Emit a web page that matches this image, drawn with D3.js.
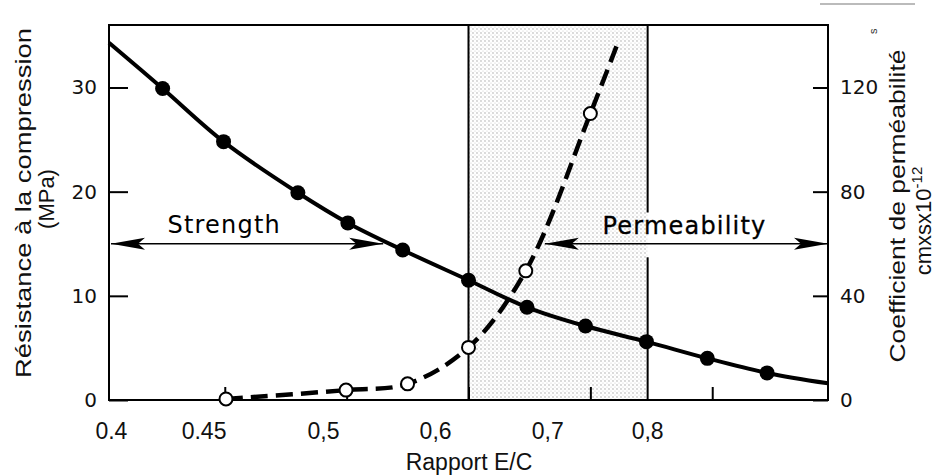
<!DOCTYPE html>
<html>
<head>
<meta charset="utf-8">
<script src="https://cdn.jsdelivr.net/npm/d3@7"></script>
<style>
  html, body { margin: 0; padding: 0; background: #fff; }
  svg { display: block; }
  .frame { stroke: #000; stroke-width: 2; fill: none; }
  .axis path { display: none; }
  .axis line { stroke: #000; stroke-width: 2; }
  .axis text { font-family: "DejaVu Sans", sans-serif; font-size: 20px; fill: #111; }
  .title { font-family: "Liberation Sans", Arial, sans-serif; fill: #111; }
  .hand { font-family: "DejaVu Sans", sans-serif; font-size: 24px; letter-spacing: 1.2px; fill: #000; }
</style>
</head>
<body>
<div id="chart"></div>
<script>
// rapport E/C (water/cement) of the strength points, and strength in MPa
const wcStrength = [0.349, 0.399, 0.46, 0.501, 0.546, 0.60, 0.648, 0.696, 0.746, 0.796, 0.845];
const strength   = [29.9, 24.8, 19.9, 17.0, 14.4, 11.5, 8.9, 7.1, 5.6, 4.0, 2.6];
// where the solid curve meets the frame
const strengthStart = [0.305, 34.3];
const strengthEnd   = [0.895, 1.6];

// permeability points (cm/s x 10^-12)
const wcPerm       = [0.401, 0.4995, 0.55, 0.60, 0.647, 0.70];
const permeability = [0.4, 3.8, 6.2, 20.2, 49.6, 110];
const permEnd      = [0.723, 137.7];

// x axis: tick marks and the (re-lettered) labels printed under it
const xTicks    = [0.4, 0.5, 0.6, 0.7, 0.8];
const xLabels   = ["0.4", "0.45", "0,5", "0,6", "0,7", "0,8"];
const xLabelsAt = [0.307, 0.383, 0.481, 0.573, 0.665, 0.747];

const leftTicks  = [0, 10, 20, 30];
const rightTicks = [0, 40, 80, 120];

// shaded band and the two range arrows (drawn at 15 MPa)
const zone = [0.60, 0.747];
const strengthArrow = [0.305, 0.53];
const permArrow     = [0.661, 0.895];
const arrowLevel    = 15;

const width = 936, height = 475;
const plotL = 109, plotR = 828, plotT = 25, plotB = 400;

const svg = d3.select("#chart").append("svg")
    .attr("width", width).attr("height", height);

const x  = d3.scaleLinear().domain([0.305, 0.895]).range([plotL, plotR]);
const yL = d3.scaleLinear().domain([0, 36]).range([plotB, plotT]);
const yR = d3.scaleLinear().domain([0, 144]).range([plotB, plotT]);

const defs = svg.append("defs");
const pat = defs.append("pattern")
    .attr("id", "dots").attr("patternUnits", "userSpaceOnUse")
    .attr("width", 4).attr("height", 4);
pat.append("circle").attr("cx", 1).attr("cy", 1).attr("r", 0.65).attr("fill", "#999");
pat.append("circle").attr("cx", 3).attr("cy", 3).attr("r", 0.5).attr("fill", "#bbb");

function arrowHead(id, dir) {
    // long narrow filled head, tip at 0
    defs.append("marker")
        .attr("id", id).attr("markerUnits", "userSpaceOnUse")
        .attr("viewBox", "-40 -8 44 16")
        .attr("markerWidth", 44).attr("markerHeight", 16)
        .attr("refX", 0).attr("refY", 0)
        .attr("orient", dir)
        .append("path")
        .attr("d", "M0,0 L-34,-6 L-27,0 L-34,6 Z")
        .attr("fill", "#000");
}
arrowHead("headEnd", "auto");
arrowHead("headStart", "auto-start-reverse");

// shaded band
svg.append("rect")
    .attr("x", x(zone[0])).attr("y", plotT)
    .attr("width", x(zone[1]) - x(zone[0])).attr("height", plotB - plotT)
    .attr("fill", "url(#dots)");

svg.append("line")
    .attr("x1", x(zone[0])).attr("x2", x(zone[0]))
    .attr("y1", plotT).attr("y2", plotB)
    .attr("stroke", "#000").attr("stroke-width", 2);
// right edge is broken where the permeability label sits
[[36, 18], [13.7, 0]].forEach(([a, b]) => {
    svg.append("line")
        .attr("x1", x(zone[1])).attr("x2", x(zone[1]))
        .attr("y1", yL(a)).attr("y2", yL(b))
        .attr("stroke", "#000").attr("stroke-width", 2);
});

// frame
svg.append("rect").attr("class", "frame")
    .attr("x", plotL).attr("y", plotT)
    .attr("width", plotR - plotL).attr("height", plotB - plotT);

// axes, ticks pointing inward
svg.append("g").attr("class", "axis")
    .attr("transform", `translate(${plotL},0)`)
    .call(d3.axisLeft(yL).tickValues(leftTicks).tickSize(-19).tickPadding(12).tickFormat(d3.format("d")));
svg.append("g").attr("class", "axis")
    .attr("transform", `translate(${plotR},0)`)
    .call(d3.axisRight(yR).tickValues(rightTicks).tickSize(-15).tickPadding(12).tickFormat(d3.format("d")));
svg.append("g").attr("class", "axis")
    .attr("transform", `translate(0,${plotB})`)
    .call(d3.axisBottom(x).tickValues(xTicks).tickSize(-13).tickFormat(""));

svg.append("g").selectAll("text")
    .data(xLabels)
    .join("text")
    .attr("class", "title")
    .attr("x", (d, i) => x(xLabelsAt[i]))
    .attr("y", 439)
    .attr("text-anchor", "middle")
    .attr("font-size", 23)
    .text(d => d);

// strength curve
const strengthPts = [strengthStart]
    .concat(wcStrength.map((w, i) => [w, strength[i]]))
    .concat([strengthEnd]);
svg.append("path")
    .attr("d", d3.line().x(d => x(d[0])).y(d => yL(d[1])).curve(d3.curveCatmullRom)(strengthPts))
    .attr("fill", "none").attr("stroke", "#000").attr("stroke-width", 4);

// permeability curve
const permPts = wcPerm.map((w, i) => [w, permeability[i]]).concat([permEnd]);
svg.append("path")
    .attr("d", d3.line().x(d => x(d[0])).y(d => yR(d[1])).curve(d3.curveCatmullRom)(permPts))
    .attr("fill", "none").attr("stroke", "#000").attr("stroke-width", 4.5)
    .attr("stroke-dasharray", "17,8");

svg.append("g").selectAll("circle")
    .data(wcStrength)
    .join("circle")
    .attr("cx", d => x(d))
    .attr("cy", (d, i) => yL(strength[i]))
    .attr("r", 7.5).attr("fill", "#000");

svg.append("g").selectAll("circle")
    .data(wcPerm)
    .join("circle")
    .attr("cx", d => x(d))
    .attr("cy", (d, i) => yR(permeability[i]))
    .attr("r", 6.5).attr("fill", "#fff")
    .attr("stroke", "#000").attr("stroke-width", 2);

// range arrows and their labels
[strengthArrow, permArrow].forEach(a => {
    svg.append("line")
        .attr("x1", x(a[0]) + 2).attr("x2", x(a[1]))
        .attr("y1", yL(arrowLevel)).attr("y2", yL(arrowLevel))
        .attr("stroke", "#000").attr("stroke-width", 1.6)
        .attr("marker-start", "url(#headStart)")
        .attr("marker-end", "url(#headEnd)");
});

svg.append("text").attr("class", "hand")
    .attr("x", x(0.353)).attr("y", yL(arrowLevel) - 11)
    .text("Strength");
svg.append("text").attr("class", "hand")
    .attr("x", x(0.71)).attr("y", yL(arrowLevel) - 10)
    .attr("stroke", "#000").attr("stroke-width", 0.3)
    .text("Permeability");

// axis titles
svg.append("text").attr("class", "title")
    .attr("transform", "translate(31,203) rotate(-90)")
    .attr("text-anchor", "middle").attr("font-size", 22)
    .attr("textLength", 350).attr("lengthAdjust", "spacingAndGlyphs")
    .text("Résistance à la compression");
svg.append("text").attr("class", "title")
    .attr("transform", "translate(54,199) rotate(-90)")
    .attr("text-anchor", "middle").attr("font-size", 22)
    .text("(MPa)");

svg.append("text").attr("class", "title")
    .attr("transform", "translate(905,206) rotate(-90)")
    .attr("text-anchor", "middle").attr("font-size", 22)
    .attr("textLength", 313).attr("lengthAdjust", "spacingAndGlyphs")
    .text("Coefficient de perméabilité");
const unit = svg.append("text").attr("class", "title")
    .attr("transform", "translate(931,221) rotate(-90)")
    .attr("text-anchor", "middle").attr("font-size", 22);
unit.append("tspan").text("cmxsx10");
unit.append("tspan").attr("font-size", 15).attr("dy", -9).text("-12");

svg.append("text").attr("class", "title")
    .attr("x", 469).attr("y", 470)
    .attr("text-anchor", "middle").attr("font-size", 23)
    .text("Rapport E/C");

// scan leftovers in the top-right corner
svg.append("line")
    .attr("x1", 820).attr("x2", 915).attr("y1", 4).attr("y2", 4)
    .attr("stroke", "#bbb").attr("stroke-width", 2);
svg.append("text")
    .attr("transform", "translate(877,34) rotate(-90)")
    .attr("font-family", "Liberation Sans, sans-serif").attr("font-size", 11)
    .attr("fill", "#333")
    .text("s");
</script>
</body>
</html>
